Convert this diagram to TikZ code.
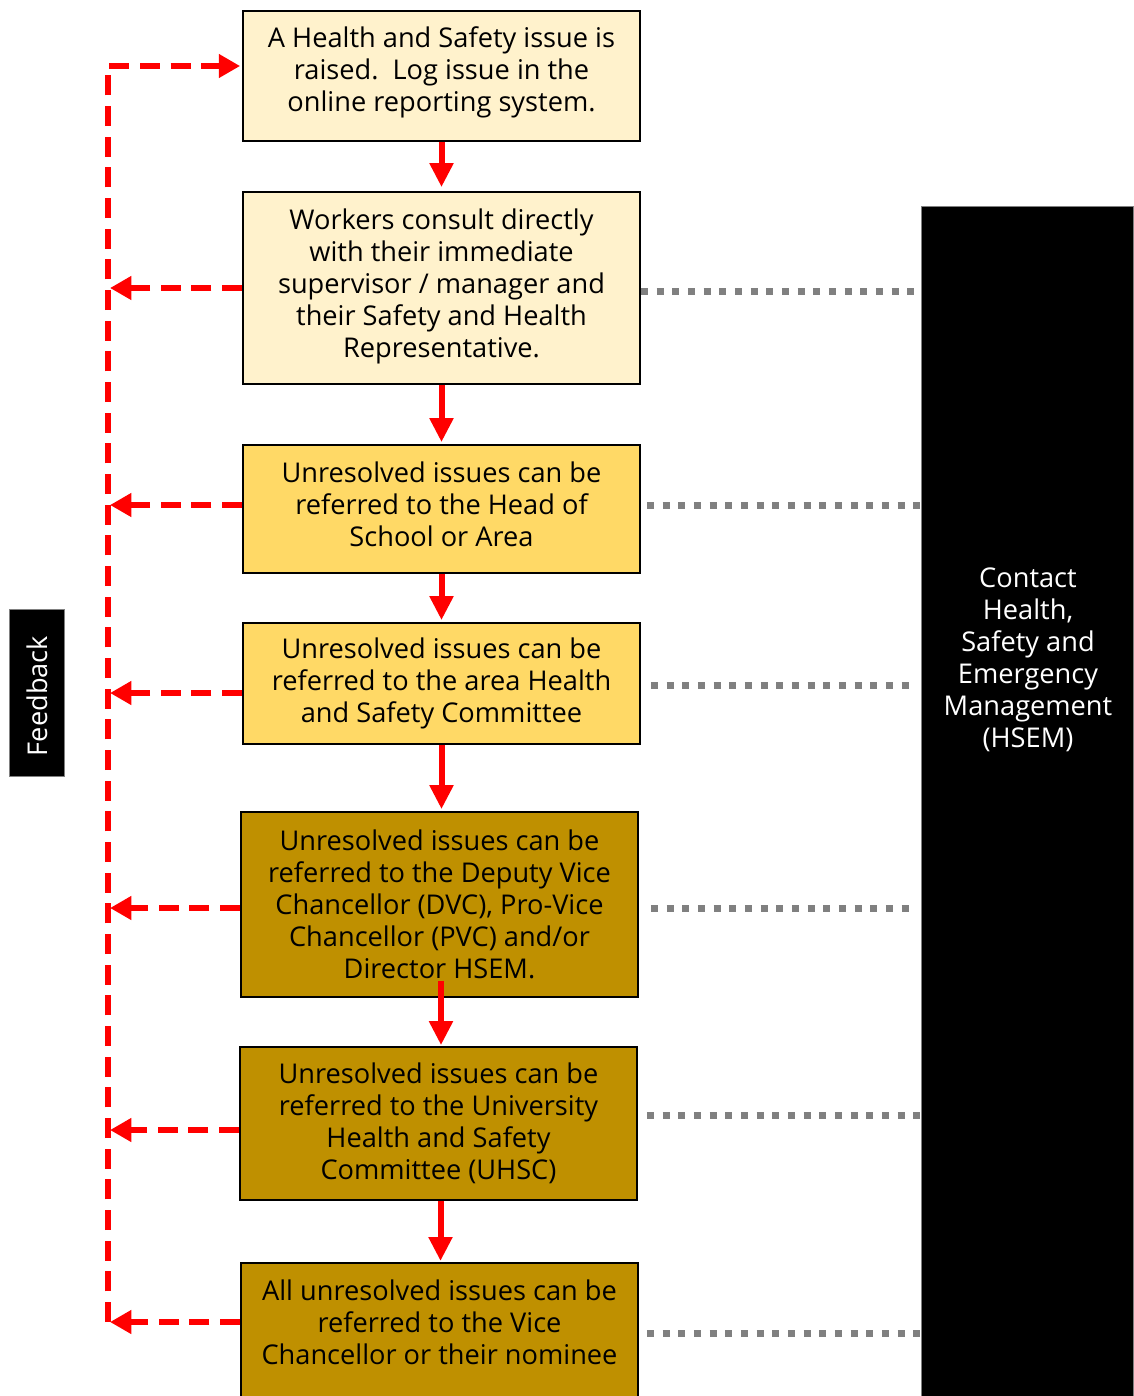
\documentclass[tikz,border=0pt]{standalone}
\usepackage{fontspec}
\setmainfont{Open Sans}
\usetikzlibrary{arrows.meta,calc}
\definecolor{cream}{HTML}{FFF2CC}
\definecolor{gold}{HTML}{FFD966}
\definecolor{dkgold}{HTML}{BF9000}
\definecolor{fbred}{HTML}{FF0000}
\definecolor{dotgray}{HTML}{808080}
\begin{document}
\begin{tikzpicture}[x=0.75pt,y=-0.75pt,
  box/.style={draw=black,line width=1.3pt,minimum width=297.75pt,inner sep=0pt,align=center,font=\fontsize{20.4}{24}\selectfont},
  txt/.style={align=center,inner sep=0pt,font=\fontsize{20.4}{24}\selectfont},
  flow/.style={draw=fbred,line width=4.5pt,-{Triangle[length=18pt,width=17pt]}},
  fb/.style={draw=fbred,line width=4.5pt,dash pattern=on 15pt off 8pt,-{Triangle[length=16pt,width=17pt]}},
  dots/.style={draw=dotgray,line width=5.25pt,dash pattern=on 5.25pt off 6.5pt}]
\useasboundingbox (0,0) rectangle (1133,1396);
% boxes
\node[box,fill=cream,minimum height=97.5pt] (b1) at (441.5,76) {A Health and Safety issue is\\raised.\ \ Log issue in the\\online reporting system.\\[-13.5pt]};
\node[box,fill=cream,minimum height=144pt] (b2) at (441.5,288) {Workers consult directly\\with their immediate\\supervisor / manager and\\their Safety and Health\\Representative.\\[-16.5pt]};
\node[box,fill=gold,minimum height=96pt] (b3) at (441.5,509) {Unresolved issues can be\\referred to the Head of\\School or Area\\[-16.5pt]};
\node[box,fill=gold,minimum height=90.75pt] (b4) at (441.5,683.5) {Unresolved issues can be\\referred to the area Health\\and Safety Committee};
\node[box,fill=dkgold,minimum height=138.75pt] (b5) at (439.5,904.5) {Unresolved issues can be\\referred to the Deputy Vice\\Chancellor (DVC), Pro-Vice\\Chancellor (PVC) and/or\\Director HSEM.};
\node[box,fill=dkgold,minimum height=114.75pt] (b6) at (438.5,1123.5) {Unresolved issues can be\\referred to the University\\Health and Safety\\Committee (UHSC)};
\node[box,fill=dkgold,minimum height=120pt,anchor=north] (b7) at (439.5,1262) {};
\node[txt] (t7) at (439.5,1322) {All unresolved issues can be\\referred to the Vice\\Chancellor or their nominee};
% HSEM panel
\node[fill=black,draw=gray,line width=0.8pt,minimum width=159pt,minimum height=900pt,inner sep=0pt,anchor=north west] (hsem) at (921,206) {};
\node[txt,text=white] (hsemtxt) at (1028,660) {Contact\\Health,\\Safety and\\Emergency\\Management\\(HSEM)};
% Feedback label
\node[fill=black,draw=gray,line width=0.6pt,minimum width=41.25pt,minimum height=125.25pt,inner sep=0pt] (fbbox) at (36.5,692.5) {};
\node[txt,text=white,rotate=90] (fbtxt) at (37,696) {Feedback};
% main flow
\draw[flow] (b1.south) -- ($(b2.north)+(0,-4)$);
\draw[flow] (b2.south) -- ($(b3.north)+(0,-2)$);
\draw[flow] (b3.south) -- ($(b4.north)+(0,-2)$);
\draw[flow] (b4.south) -- ($(b4.south |- b5.north)+(0,-2)$);
\draw[flow] ($(b5.south)+(1.5,-17)$) -- ($(b5.south |- b6.north)+(1.5,-1)$);
\draw[flow] ($(b6.south)+(2,0)$) -- ($(b6.south |- b7.north)+(2,-1)$);
% feedback loop
\coordinate (fbtop) at (108,66);
\coordinate (fbbot) at (108,1322);
\draw[fb] (fbbot) -- (fbtop) -- ($(b1.west |- fbtop)+(-2,0)$);
\draw[fb] (b2.west |- 0,288) -- ($(fbtop |- 0,288)+(2,0)$);
\draw[fb] (b3.west |- 0,505) -- ($(fbtop |- 0,505)+(2,0)$);
\draw[fb] (b4.west |- 0,693) -- ($(fbtop |- 0,693)+(2,0)$);
\draw[fb] (b5.west |- 0,908) -- ($(fbtop |- 0,908)+(2,0)$);
\draw[fb] (b6.west |- 0,1130) -- ($(fbtop |- 0,1130)+(2,0)$);
\draw[fb] (b7.west |- 0,1322) -- ($(fbtop |- 0,1322)+(2,0)$);
% links to HSEM
\draw[dots] (b2.east |- 0,291) -- (hsem.west |- 0,291);
\draw[dots] ($(b3.east |- 0,505)+(6,0)$) -- ($(hsem.west |- 0,505)+(2,0)$);
\draw[dots] ($(b4.east |- 0,685)+(10,0)$) -- ($(hsem.west |- 0,685)+(-7,0)$);
\draw[dots] ($(b5.east |- 0,908)+(12,0)$) -- ($(hsem.west |- 0,908)+(-7,0)$);
\draw[dots] ($(b6.east |- 0,1115)+(9,0)$) -- (hsem.west |- 0,1115);
\draw[dots] ($(b7.east |- 0,1333)+(8,0)$) -- (hsem.west |- 0,1333);
\end{tikzpicture}
\end{document}
